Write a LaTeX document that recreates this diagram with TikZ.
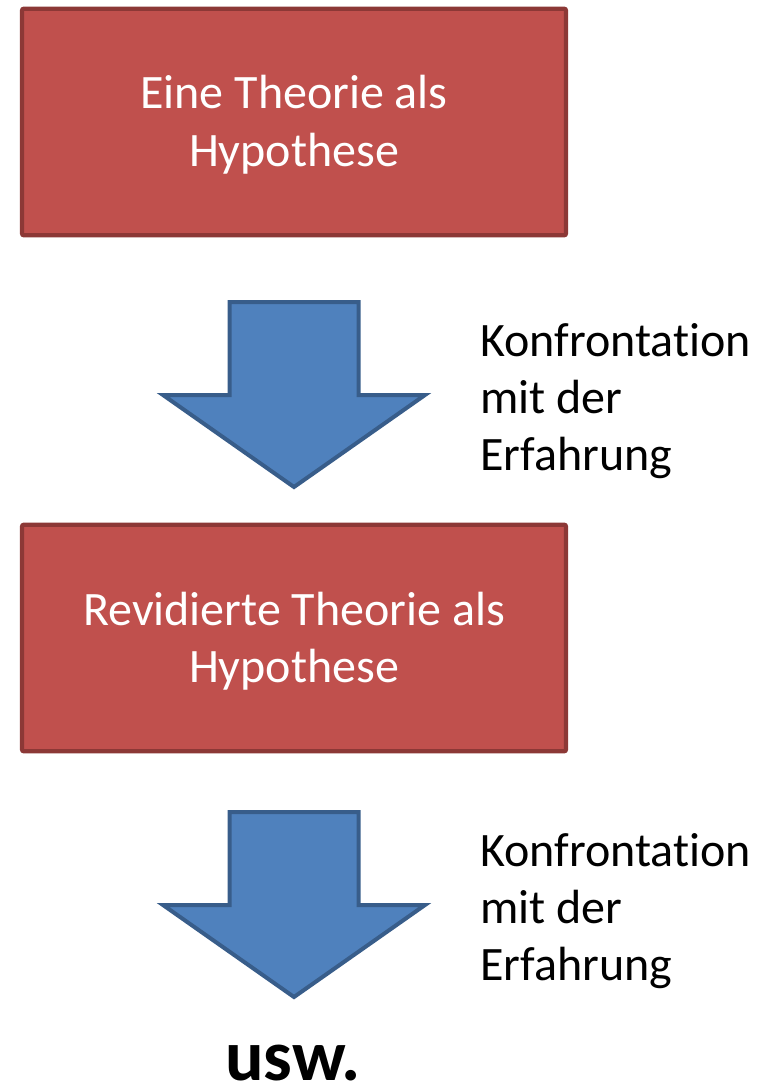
\documentclass[tikz,border=0pt]{standalone}
\usepackage{fontspec}
\setmainfont[Ligatures={NoCommon}]{Carlito}
\usepackage{xcolor}
\usepackage{tikz}
\definecolor{hypfill}{HTML}{C0504D}
\definecolor{hypline}{HTML}{8C3836}
\definecolor{arrfill}{HTML}{4F81BD}
\definecolor{arrline}{HTML}{385D8A}

\begin{document}
\begin{tikzpicture}[x=0.75pt,y=-0.75pt,
   hyp/.style={draw=hypline,line width=3.2pt,rounded corners=1.5pt,fill=hypfill,
               minimum width=408pt,minimum height=170pt,align=center,text=white,
               text depth=1.5pt,font=\fontsize{36}{43}\selectfont},
   note/.style={anchor=west,align=left,inner sep=0pt,
                font=\fontsize{36}{43}\selectfont},
   blockarrow/.style={draw=arrline,line width=3pt,fill=arrfill,miter limit=10},
   downarrow/.pic={\draw[blockarrow] (-64.5,0) -- (64.5,0) -- (64.5,93) -- (131,93)
                   -- (0,185) -- (-131,93) -- (-64.5,93) -- cycle;}]
  \useasboundingbox (0,0) rectangle (769,1087);
  \node[hyp] (h1) at (294,122) {Eine Theorie als\\Hypothese};
  \pic (a1) at (294,302) {downarrow};
  \node[note] (k1) at (480,401) {Konfrontation\\mit der\\Erfahrung};
  \node[hyp] (h2) at (294,638) {Revidierte Theorie als\\Hypothese};
  \pic (a2) at (294,812) {downarrow};
  \node[note] (k2) at (480,911) {Konfrontation\\mit der\\Erfahrung};
  \node[anchor=base,inner sep=0pt,font=\fontsize{54}{60}\selectfont\bfseries]
       (usw) at (293,1080) {usw.};
\end{tikzpicture}
\end{document}
